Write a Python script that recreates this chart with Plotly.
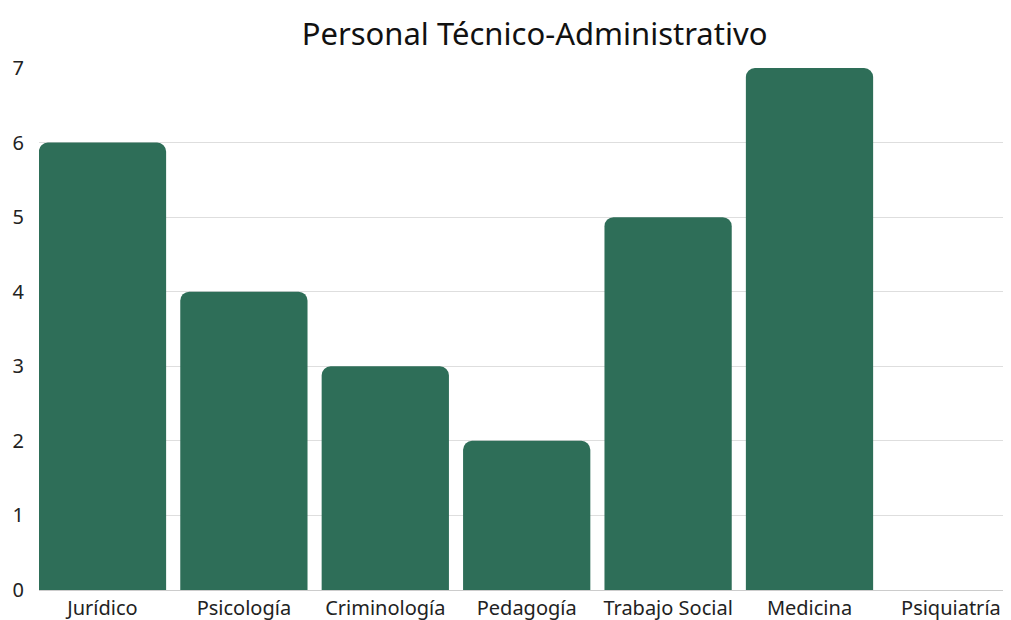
import plotly.graph_objects as go

categories = ["Jurídico", "Psicología", "Criminología", "Pedagogía",
              "Trabajo Social", "Medicina", "Psiquiatría"]
values = [6, 4, 3, 2, 5, 7, 0]

FONT = "Noto Sans, Lato, sans-serif"

# page body has an 8px margin, so figure is sized a bit smaller than the window
fig = go.Figure()
fig.add_trace(go.Bar(x=categories, y=values, marker_color="#2e6e58",
                     marker_line_width=0))

fig.update_layout(
    width=1003, height=612,
    title=dict(text="Personal Técnico-Administrativo", x=0.525, xanchor="center",
               y=0.957, yanchor="middle",
               font=dict(family=FONT, size=31, color="#111111")),
    font=dict(family=FONT, size=20, color="#222222"),
    plot_bgcolor="white", paper_bgcolor="white",
    margin=dict(l=31, r=0, t=60, b=30),
    bargap=0.1,
    barcornerradius=9,
    showlegend=False,
)
fig.update_xaxes(range=[-0.449, 6.425], showgrid=False, showline=True,
                 linecolor="#cccccc", linewidth=1, ticks="",
                 ticklabelstandoff=0,
                 tickfont=dict(size=20), automargin=False)
fig.update_yaxes(range=[0, 7], dtick=1, showgrid=True, gridcolor="#dedede",
                 zeroline=False, ticks="", ticklabelstandoff=14,
                 tickfont=dict(size=20), automargin=False)

fig.write_html("out.html")
